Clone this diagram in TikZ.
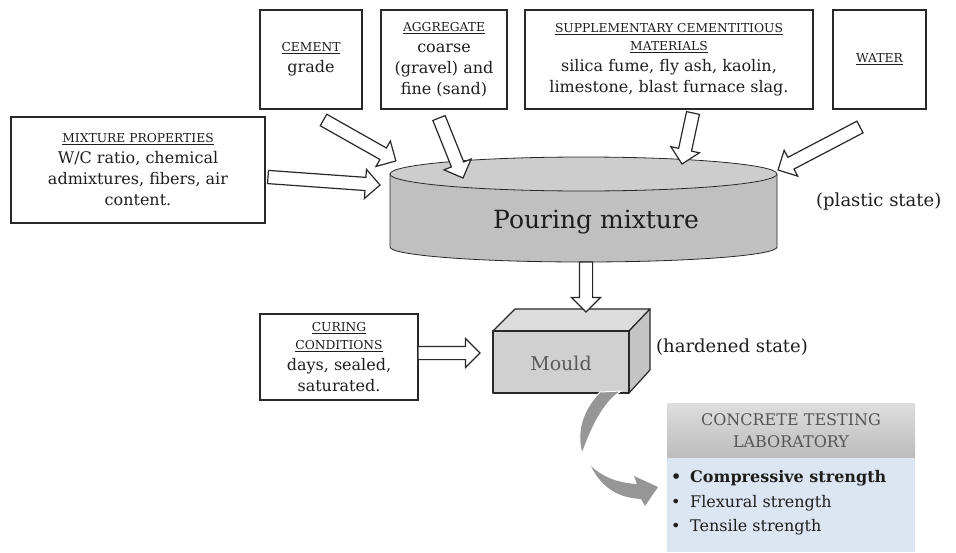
\documentclass[tikz,border=0pt]{standalone}
\usepackage{fontspec}
\setmainfont{DejaVu Serif}
\usetikzlibrary{shapes.arrows,calc}

\definecolor{ink}{RGB}{30,30,30}
\definecolor{boxline}{RGB}{40,40,40}
\definecolor{cylside}{RGB}{192,192,192}
\definecolor{cyltop}{RGB}{205,205,205}
\definecolor{mouldfront}{RGB}{208,208,208}
\definecolor{mouldtop}{RGB}{220,220,220}
\definecolor{mouldside}{RGB}{196,196,196}
\definecolor{labhi}{RGB}{222,222,222}
\definecolor{lablo}{RGB}{188,188,188}
\definecolor{labbody}{RGB}{220,230,242}
\definecolor{labtext}{RGB}{85,85,85}
\definecolor{curvegray}{RGB}{150,150,150}

% underlined heading inside a box
\newcommand{\hd}[1]{{\fontsize{12.3}{15}\selectfont\underline{#1}}}

\tikzset{
  infobox/.style={draw=boxline, line width=1.3pt, fill=white, align=center,
    inner sep=0pt, text=ink, font=\fontsize{16}{21}\selectfont},
  hollow/.style={single arrow, draw=boxline, fill=white, line width=1.2pt,
    inner xsep=0pt, inner ysep=6pt, single arrow head extend=8pt,
    single arrow tip angle=90, outer sep=0pt, anchor=tail},
  note/.style={text=ink, font=\fontsize{18}{22}\selectfont, inner sep=0pt, anchor=west},
}

% hollow block arrow from coordinate #1 to coordinate #2, node name #3
\newcommand{\blockarrow}[3]{%
  \path let \p1=($(#2)-(#1)$), \n1={atan2(\y1,\x1)}, \n2={veclen(\x1,\y1)} in
    node[hollow, rotate=\n1, minimum height=\n2] (#3) at (#1) {};}

\begin{document}
\begin{tikzpicture}[x=1pt, y=-1pt]
\useasboundingbox (0,0) rectangle (956,552);

% ---------- ingredient boxes ----------
\node[infobox, minimum width=102, minimum height=99] (cement) at (311,59.5)
  {\hd{CEMENT}\\ grade};
\node[infobox, minimum width=126, minimum height=99] (aggregate) at (444,59.5)
  {\hd{AGGREGATE}\\ coarse\\ (gravel) and\\ fine (sand)};
\node[infobox, minimum width=288, minimum height=99] (scm) at (669,59.5)
  {\hd{SUPPLEMENTARY CEMENTITIOUS}\\[-3pt] \hd{MATERIALS}\\ silica fume, fly ash, kaolin,\\ limestone, blast furnace slag.};
\node[infobox, minimum width=93, minimum height=99] (water) at (879.5,59.5)
  {\hd{WATER}};
\node[infobox, minimum width=254, minimum height=106] (mixprop) at (138,170)
  {\hd{MIXTURE PROPERTIES}\\ W/C ratio, chemical\\ admixtures, fibers, air\\ content.};
\node[infobox, minimum width=158, minimum height=86] (curing) at (339,357)
  {\hd{CURING}\\[-3pt] \hd{CONDITIONS}\\ days, sealed,\\ saturated.};

% ---------- pouring mixture cylinder ----------
\path[fill=cylside, draw=boxline, line width=0.8pt]
  (390,174) -- (390,247) arc[start angle=180, end angle=0, x radius=193.5, y radius=15] -- (777,174);
\draw[fill=cyltop, draw=boxline, line width=0.8pt] (583.5,174) ellipse[x radius=193.5, y radius=17];
\node[text=ink, font=\fontsize{25}{30}\selectfont, inner sep=0pt] (pour) at (596,222) {Pouring mixture};
\node[note] (plastic) at (816,202) {(plastic state)};

% ---------- mould ----------
\begin{scope}[draw=boxline, line width=1.2pt, line join=round]
  \draw[fill=mouldtop] (493,331) -- (515,309) -- (650,309) -- (629,331) -- cycle;
  \draw[fill=mouldside] (629,331) -- (650,309) -- (650,370) -- (629,393) -- cycle;
  \draw[fill=mouldfront] (493,331) rectangle (629,393);
\end{scope}
\node[text=black!65, font=\fontsize{19}{23}\selectfont, inner sep=0pt] (mould) at (561,363) {Mould};
\node[note] (hardened) at (656,347) {(hardened state)};

% ---------- testing laboratory ----------
\node[top color=labhi, bottom color=lablo, minimum width=248, minimum height=55,
  inner sep=0pt, align=center, text=labtext, font=\fontsize{16}{22}\selectfont]
  (labhead) at (791,430.5) {CONCRETE TESTING\\ LABORATORY};
\node[fill=labbody, minimum width=248, minimum height=94, inner sep=0pt]
  (labbody) at (791,505) {};
\node[anchor=west, align=left, inner sep=0pt, text=ink, font=\fontsize{16}{24.5}\selectfont]
  (tests) at (671,503)
  {\textbf{\makebox[19pt][l]{\textbullet}Compressive strength}\\
   \makebox[19pt][l]{\textbullet}Flexural strength\\
   \makebox[19pt][l]{\textbullet}Tensile strength};

% ---------- curved gray arrow from mould to laboratory ----------
\fill[curvegray, draw=white, line width=1pt]
  (600,392) .. controls (582,410) and (576,432) .. (582,454)
  .. controls (592,426) and (604,402) .. (621,391) -- cycle;
\fill[curvegray]
  (591,466) .. controls (602,489) and (620,498) .. (641,499)
  -- (645,506) -- (658,487) -- (634,476) -- (637,484)
  .. controls (619,483) and (604,478) .. (591,466) -- cycle;

% ---------- hollow flow arrows ----------
\coordinate (cementOut) at (323.5,120);   \coordinate (cementIn) at (396,161);
\coordinate (aggOut) at (439,118);        \coordinate (aggIn) at (463,178);
\coordinate (mixOut) at (268,177);        \coordinate (mixIn) at (380,185);
\coordinate (scmOut) at (693,113);        \coordinate (scmIn) at (682,164);
\coordinate (waterOut) at (860,127);      \coordinate (waterIn) at (778,170);
\coordinate (pourOut) at (586,262);       \coordinate (mouldIn) at (586,312);
\coordinate (curingOut) at (418,353);     \coordinate (curingIn) at (480,353);

\blockarrow{cementOut}{cementIn}{a1}
\blockarrow{aggOut}{aggIn}{a2}
\blockarrow{mixOut}{mixIn}{a3}
\blockarrow{scmOut}{scmIn}{a4}
\blockarrow{waterOut}{waterIn}{a5}
\blockarrow{pourOut}{mouldIn}{a6}
\blockarrow{curingOut}{curingIn}{a7}
\end{tikzpicture}
\end{document}
